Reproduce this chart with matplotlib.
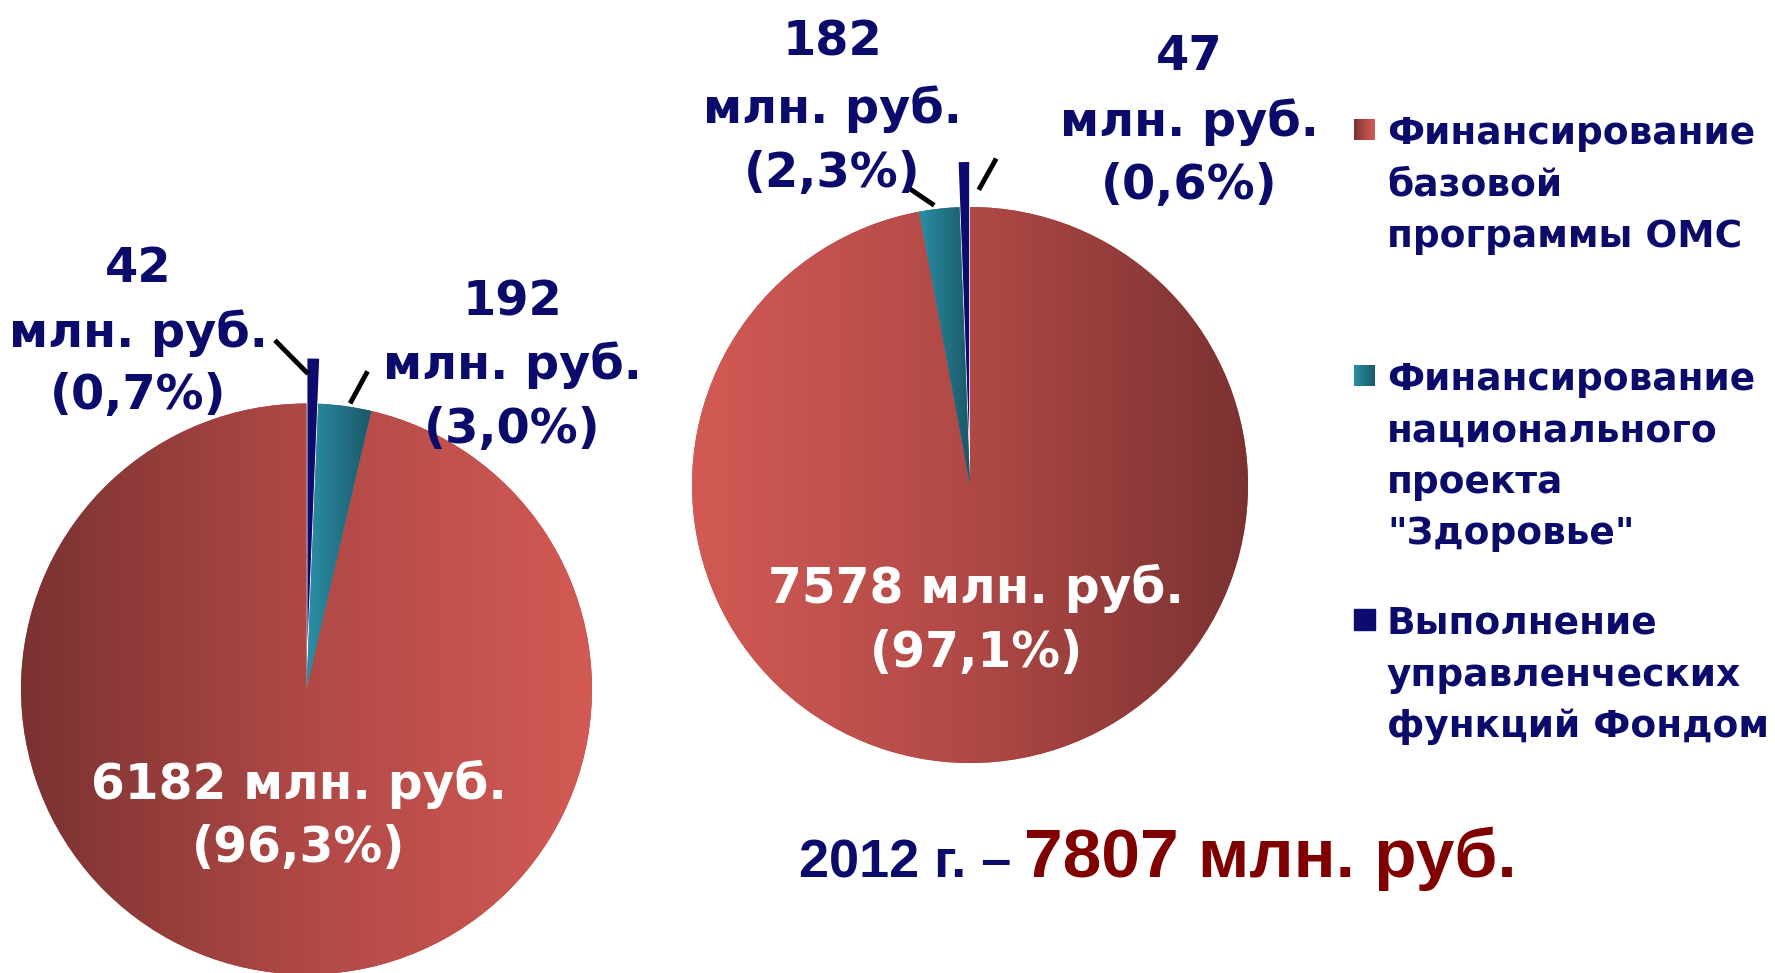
import numpy as np
import matplotlib.pyplot as plt
from matplotlib import font_manager
from matplotlib.colors import LinearSegmentedColormap

W, H = 1775, 973

# slices go navy, teal, red (from 12 o'clock)
legend_labels = ['Финансирование\nбазовой\nпрограммы ОМС',
                 'Финансирование\nнационального\nпроекта\n"Здоровье"',
                 'Выполнение\nуправленческих\nфункций Фондом']
values_2011 = [42, 192, 6182]
pcts_2011 = ['0,7%', '3,0%', '96,3%']
values_2012 = [47, 182, 7578]
pcts_2012 = ['0,6%', '2,3%', '97,1%']
total_2012 = 7807
unit = 'млн. руб.'

navy = '#0c0c6e'
txt_navy = '#0b0b6b'
red_cm = LinearSegmentedColormap.from_list('red', ['#7a3231', '#b04946', '#d35a54'])
teal_cm = LinearSegmentedColormap.from_list('teal', ['#2b8fa6', '#1a5868'])
grad = np.linspace(0, 1, 256).reshape(1, -1)

try:
    font_manager.findfont('Liberation Sans Narrow', fallback_to_default=False)
    narrow = 'Liberation Sans Narrow'
except ValueError:
    narrow = 'Liberation Sans'


def Y(y):
    return H - y


def draw_pie(ax, values, center, radius, counterclock, flip):
    wedges, _ = ax.pie(values, colors=[navy, '#236f83', '#b04946'], startangle=90,
                       counterclock=counterclock, explode=[45, 0, 0], center=center,
                       radius=radius, frame=True, wedgeprops=dict(linewidth=0))
    cx, cy = center
    g = grad[:, ::-1] if flip else grad
    ax.imshow(g, extent=[cx - radius, cx + radius, cy - radius, cy + radius],
              cmap=red_cm, aspect='auto', clip_path=wedges[2], zorder=2)
    tw = wedges[1]
    ang = np.radians([tw.theta1, tw.theta2])
    xs = [cx] + list(cx + radius * np.cos(ang))
    ax.imshow(grad, extent=[min(xs), max(xs), cy - radius, cy + radius],
              cmap=teal_cm, aspect='auto', clip_path=tw, zorder=2)
    wedges[0].set_zorder(3)
    return wedges


def leader(ax, w, center, radius, r0, a0, r1, a1):
    cx, cy = center
    tm = (w.theta1 + w.theta2) / 2
    p = [(cx + radius * r * np.cos(np.radians(tm + a)), cy + radius * r * np.sin(np.radians(tm + a)))
         for r, a in ((r0, a0), (r1, a1))]
    ax.plot([p[0][0], p[1][0]], [p[0][1], p[1][1]], color='black', lw=3.5, zorder=4)


def label_lines(ax, x, ys, lines, **kw):
    for y, s in zip(ys, lines):
        ax.text(x, Y(y), s, ha='center', va='center_baseline', zorder=5, **kw)


fig = plt.figure(figsize=(W / 100, H / 100), dpi=100)
ax = fig.add_axes([0, 0, 1, 1])

c1, r1 = (306.5, Y(689)), 285.5
c2, r2 = (970, Y(485)), 278
w1 = draw_pie(ax, values_2011, c1, r1, False, False)
w2 = draw_pie(ax, values_2012, c2, r2, True, True)

leader(ax, w1[0], c1, r1, 1.11, 1.2, 1.22, 6.1)
leader(ax, w1[1], c1, r1, 1.02, -1.1, 1.125, -3.0)
leader(ax, w2[1], c2, r2, 1.02, 1.3, 1.085, 5.0)
leader(ax, w2[0], c2, r2, 1.07, -3.0, 1.17, -5.5)

out_kw = dict(color=txt_navy, fontsize=34.5, fontweight='bold', family='DejaVu Sans')
label_lines(ax, 138, [263, 328, 391], [str(values_2011[0]), unit, '(' + pcts_2011[0] + ')'], **out_kw)
label_lines(ax, 512, [297, 360, 425], [str(values_2011[1]), unit, '(' + pcts_2011[1] + ')'], **out_kw)
label_lines(ax, 832, [37, 104, 168], [str(values_2012[1]), unit, '(' + pcts_2012[1] + ')'], **out_kw)
label_lines(ax, 1189, [51, 117, 181], [str(values_2012[0]), unit, '(' + pcts_2012[0] + ')'], **out_kw)

in_kw = dict(color='white', fontsize=35, fontweight='bold', family='DejaVu Sans')
label_lines(ax, 299, [779, 843], [f'{values_2011[2]} {unit}', '(' + pcts_2011[2] + ')'], **in_kw)
label_lines(ax, 976, [583, 648], [f'{values_2012[2]} {unit}', '(' + pcts_2012[2] + ')'], **in_kw)

# legend
leg_tops = [130, 376, 620]
leg_cmaps = [red_cm, teal_cm, None]
for lab, top, cm in zip(legend_labels, leg_tops, leg_cmaps):
    ext = [1354, 1375, Y(top + 10), Y(top - 11)]
    if cm is None:
        ax.add_patch(plt.Rectangle((ext[0], ext[2]), ext[1] - ext[0], ext[3] - ext[2], color=navy))
    else:
        ax.imshow(grad, extent=ext, cmap=cm, aspect='auto', zorder=2)
    for i, line in enumerate(lab.split('\n')):
        ax.text(1387, Y(top + i * 51.5), line, ha='left', va='center_baseline',
                color=txt_navy, fontsize=27, fontweight='bold', family='DejaVu Sans')

ax.text(1011, Y(877), '2012 г. –', ha='right', va='baseline', color=txt_navy,
        fontsize=39, fontweight='bold', family=narrow)
ax.text(1024, Y(877), f'{total_2012} {unit}', ha='left', va='baseline', color='#800000',
        fontsize=50, fontweight='bold', family='Liberation Sans')

ax.set_xlim(0, W)
ax.set_ylim(0, H)
ax.set_aspect('auto')
ax.axis('off')
fig.savefig('out.png', dpi=100, facecolor='white')
